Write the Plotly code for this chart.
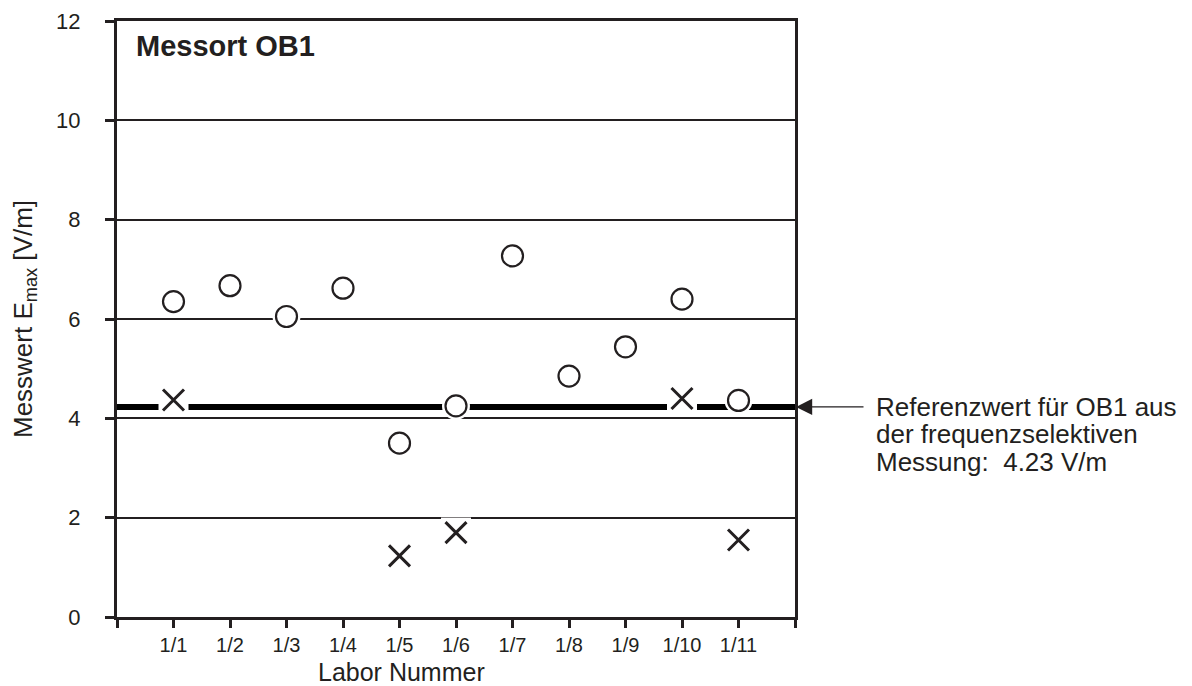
import plotly.graph_objects as go

labs = ["1/1", "1/2", "1/3", "1/4", "1/5", "1/6", "1/7", "1/8", "1/9", "1/10", "1/11"]
lab_pos = list(range(1, 12))
circle_vals = [6.35, 6.67, 6.05, 6.62, 3.50, 4.25, 7.27, 4.85, 5.44, 6.40, 4.36]
cross_pos = [1, 5, 6, 10, 11]
cross_vals = [4.37, 1.23, 1.70, 4.40, 1.55]
REF = 4.23
X_RANGE = [0, 12]
Y_RANGE = [0, 12]
note_lines = ["Referenzwert für OB1 aus", "der frequenzselektiven", "Messung:  4.23 V/m"]

INK = "#231f20"
FONT = "Liberation Sans, Arial, Helvetica, sans-serif"

# page body has an 8px default margin -> figure slightly smaller, margins compensated
W, H = 1184, 678
ML, MT, MR, MB = 109, 13, 397, 69
PW = W - ML - MR
PH = H - MT - MB

fig = go.Figure()
fig.add_trace(go.Scatter(x=X_RANGE, y=[REF, REF], mode="lines",
                         line=dict(color="black", width=6), hoverinfo="skip", showlegend=False))
fig.add_trace(go.Scatter(x=cross_pos, y=cross_vals, mode="markers",
                         marker=dict(symbol="square", size=30, color="white", line=dict(width=0)),
                         hoverinfo="skip", showlegend=False))
fig.add_trace(go.Scatter(x=cross_pos, y=cross_vals, mode="markers",
                         marker=dict(symbol="x-thin", size=21, color=INK, line=dict(width=3, color=INK)),
                         showlegend=False))
fig.add_trace(go.Scatter(x=lab_pos, y=circle_vals, mode="markers",
                         marker=dict(symbol="circle", size=28, color="white", line=dict(width=0)),
                         hoverinfo="skip", showlegend=False))
fig.add_trace(go.Scatter(x=lab_pos, y=circle_vals, mode="markers",
                         marker=dict(symbol="circle", size=21, color="white", line=dict(width=2.2, color=INK)),
                         showlegend=False))

fig.update_layout(
    width=W, height=H,
    margin=dict(l=ML, r=MR, t=MT, b=MB, autoexpand=False),
    plot_bgcolor="white", paper_bgcolor="white",
    font=dict(family=FONT, color=INK, size=22),
    showlegend=False,
)
fig.update_xaxes(
    range=X_RANGE, tickmode="array", tickvals=list(range(0, 13)),
    ticktext=[""] + labs + [""],
    ticks="outside", ticklen=8, tickwidth=2.5, tickcolor=INK,
    showline=True, linewidth=3, linecolor=INK, mirror=True,
    showgrid=False, zeroline=False, automargin=False,
    tickfont=dict(size=20), ticklabelstandoff=0,
)
fig.update_yaxes(
    range=Y_RANGE, dtick=2, tick0=0,
    ticks="outside", ticklen=9, tickwidth=2.5, tickcolor=INK,
    showline=True, linewidth=3, linecolor=INK, mirror=True,
    showgrid=True, gridcolor=INK, gridwidth=2, zeroline=False, automargin=False,
    tickfont=dict(size=22), ticklabelstandoff=20,
    title=dict(text="Messwert E<sub>max</sub> [V/m]", font=dict(size=26), standoff=20),
)

# x-axis title (sits left of centre in the reference)
fig.add_annotation(xref="paper", yref="paper", x=(401 - 117) / PW, y=-(672 - 617) / PH,
                   xanchor="center", yanchor="middle", text="Labor Nummer", showarrow=False,
                   font=dict(size=25, color=INK))
fig.add_annotation(xref="paper", yref="paper", x=0.025, y=0.958, xanchor="left", yanchor="middle",
                   text="<b>Messort OB1</b>", showarrow=False, font=dict(size=29, color=INK))
fig.add_annotation(xref="x", yref="y", x=X_RANGE[1], y=REF, text=" ", showarrow=True,
                   ax=73, ay=0, arrowhead=2, arrowsize=2.7, arrowwidth=1.2, arrowcolor=INK,
                   standoff=1)
fig.add_annotation(xref="paper", yref="y", x=1 + 79 / PW, y=REF, xanchor="left", yanchor="middle",
                   yshift=-27.5, align="left", showarrow=False,
                   text="<br>".join(f"<span style='font-size:26px'>{l}</span>" for l in note_lines),
                   font=dict(size=21, color=INK))

fig.write_html("out.html")
